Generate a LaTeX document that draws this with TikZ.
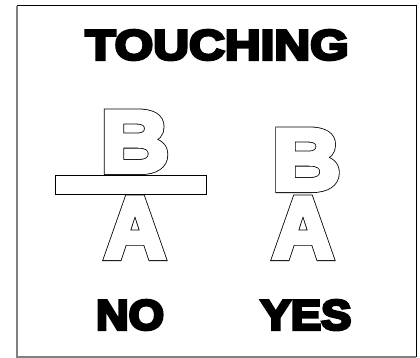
\documentclass[tikz,border=0pt]{standalone}
\usepackage{fontspec}
\newfontfamily\titlefont{Liberation Sans Bold}[FakeStretch=1.18]
\newfontfamily\answerfont{Liberation Sans Bold}[FakeStretch=1.08]
\newfontfamily\letterBfont{Liberation Sans Bold}[FakeStretch=1.088]
\newfontfamily\letterAfont{Liberation Sans Bold}[FakeStretch=0.964]
% heavy text: fill + stroke the glyphs
\newcommand\heavytext[1]{\special{pdf:literal direct 2 Tr 3 w}#1\special{pdf:literal direct 0 Tr}}
% outlined heavy letter: black wide stroke, then white slightly narrower stroke
\newcommand\outlined[1]{\special{pdf:literal direct 2 Tr 6.6 w}\rlap{#1}\color{white}\special{pdf:literal direct 2 Tr 5 w}#1\special{pdf:literal direct 0 Tr}}
\begin{document}
\begin{tikzpicture}[x=1pt,y=-1pt,
  titletext/.style={font=\titlefont\fontsize{42}{42}\selectfont, inner sep=0, anchor=base},
  answer/.style={font=\answerfont\fontsize{42}{42}\selectfont, inner sep=0, anchor=base},
  letterB/.style={font=\letterBfont\fontsize{87}{87}\selectfont, inner sep=0, anchor=base},
  letterA/.style={font=\letterAfont\fontsize{87}{87}\selectfont, inner sep=0, anchor=base},
  barbox/.style={draw, line width=0.8pt, fill=white, inner sep=0, minimum width=151pt, minimum height=19pt}]
\useasboundingbox (0,0) rectangle (420,358);
\fill[white] (0,0) rectangle (420,358);
\draw[black, line width=1pt] (17,6) -- (416,6) -- (416,357);
\draw[gray, line width=1.5pt] (17,6) -- (17,357) -- (416,357);
\node[titletext] (title) at (217,59.5) {\heavytext{TOUCHING}};
\node[letterA] (a1) at (135,257.7) {\outlined{A}};
\node[barbox] (bar) at (130.5,184.5) {};
\node[letterB] (b1) at (135,171.7) {\outlined{B}};
\node[letterA] (a2) at (303,257.7) {\outlined{A}};
\node[letterB] (b2) at (306.5,189.7) {\outlined{B}};
\node[answer] (no) at (130,329.5) {\heavytext{NO}};
\node[answer] (yes) at (306,329.5) {\heavytext{YES}};
\end{tikzpicture}
\end{document}
